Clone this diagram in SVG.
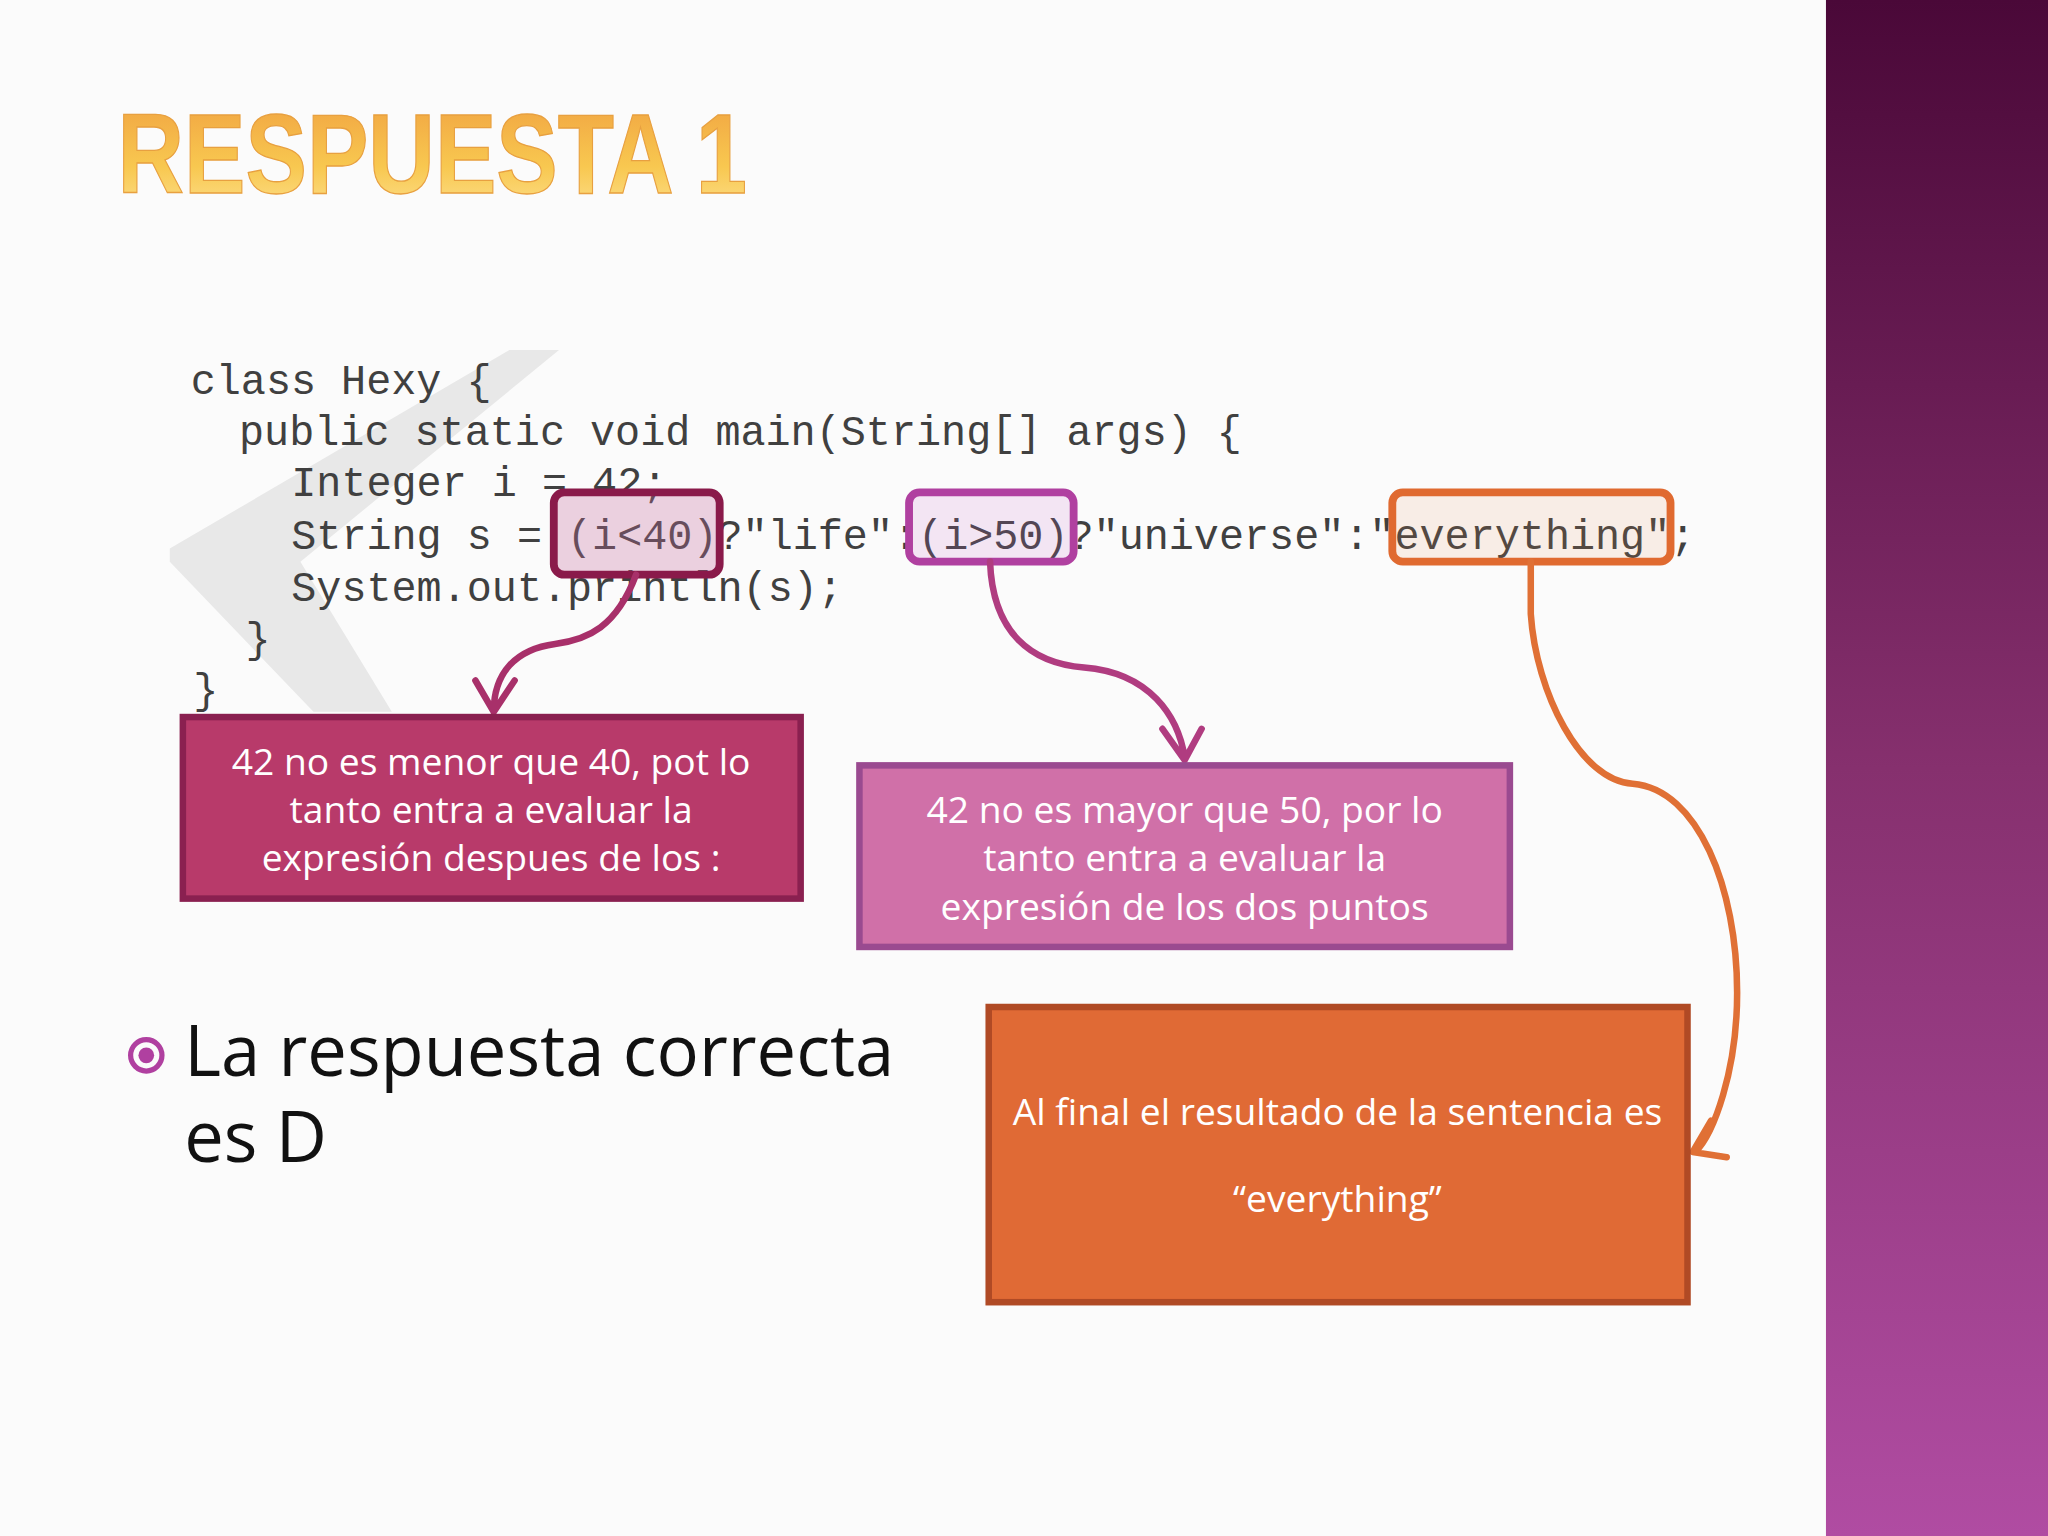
<svg xmlns="http://www.w3.org/2000/svg" width="2048" height="1536" viewBox="0 0 2048 1536">
<defs>
<linearGradient id="band" x1="0" y1="0" x2="0" y2="1"><stop offset="0" stop-color="#4a0838"/><stop offset="0.5" stop-color="#86306e"/><stop offset="1" stop-color="#b04ca2"/></linearGradient>
<linearGradient id="title" x1="0" y1="0" x2="0" y2="1"><stop offset="0" stop-color="#f0a040"/><stop offset="0.6" stop-color="#f8c850"/><stop offset="1" stop-color="#fde090"/></linearGradient>
<style>
.code{font-family:"Liberation Mono","Courier New",monospace;font-size:32px;fill:#404040}
.cal{font-family:"Open Sans","Noto Sans",sans-serif;font-size:28.5px;fill:#fff;text-anchor:middle}
.hl{stroke-width:6;rx:8}
.arr{fill:none;stroke-width:5;stroke-linecap:round;stroke-linejoin:round}
.big{font-family:"Open Sans","Noto Sans",sans-serif;font-size:54px;fill:#111}
</style>
</defs>
<rect width="2048" height="1536" fill="#fbfbfb"/>
<g transform="scale(1.30612)">
<rect x="1398" y="0" width="170" height="1176" fill="url(#band)"/>
<text x="90" y="148" font-family="Liberation Sans,Arial,sans-serif" font-weight="bold" font-size="86" textLength="482" lengthAdjust="spacingAndGlyphs" fill="url(#title)" stroke="#e8a040" stroke-width="1">RESPUESTA 1</text>
<polygon points="390,268 428,268 230,430 300,545 240,545 130,430 130,420" fill="#e8e8e8"/>
<g id="code">
<text class="code" x="146" y="302">class Hexy {</text>
<text class="code" x="183" y="341">public static void main(String[] args) {</text>
<text class="code" x="223" y="380">Integer i = 42;</text>
<text class="code" x="223" y="420">String s = (i&lt;40)?"life":(i&gt;50)?"universe":"everything";</text>
<text class="code" x="223" y="460">System.out.println(s);</text>
<text class="code" x="188" y="499">}</text>
<text class="code" x="148" y="538">}</text>
</g>
<g id="highlights">
<rect class="hl" x="424" y="377" width="127" height="63" fill="rgba(200,110,160,0.3)" stroke="#8a1a4a"/>
<rect class="hl" x="696" y="377" width="126" height="53" fill="rgba(200,110,200,0.15)" stroke="#b040a0"/>
<rect class="hl" x="1066" y="377" width="213" height="53" fill="rgba(230,140,80,0.12)" stroke="#e06a30"/>
</g>
<g id="connectors">
<path class="arr" stroke="#a8306a" d="M487,440 C472,480 450,490 425,493 C395,497 378,515 378,545 M364,521 L378,545 L394,521"/>
<path class="arr" stroke="#b03c80" d="M758,430 C760,485 790,508 830,511 C880,515 902,548 907,580 M890,558 L907,582 L920,558"/>
<path class="arr" stroke="#e07035" d="M1172,430 L1172,470 C1176,530 1210,598 1250,600 C1300,604 1330,680 1330,760 C1330,820 1312,868 1298,882 M1310,858 L1296,882 L1322,886"/>
</g>
<g id="boxA">
<rect x="140" y="549" width="473" height="139" fill="#b83a6a" stroke="#8a2050" stroke-width="5"/>
<text class="cal" x="376" y="593">42 no es menor que 40, pot lo</text>
<text class="cal" x="376" y="630">tanto entra a evaluar la</text>
<text class="cal" x="376" y="667">expresión despues de los :</text>
</g>
<g id="boxB">
<rect x="658" y="586" width="498" height="139" fill="#d070a8" stroke="#9a4a90" stroke-width="5"/>
<text class="cal" x="907" y="630">42 no es mayor que 50, por lo</text>
<text class="cal" x="907" y="667">tanto entra a evaluar la</text>
<text class="cal" x="907" y="704">expresión de los dos puntos</text>
</g>
<g id="boxC">
<rect x="757" y="771" width="535" height="226" fill="#e06a35" stroke="#b04a25" stroke-width="5"/>
<text class="cal" x="1024" y="861">Al final el resultado de la sentencia es</text>
<text class="cal" x="1024" y="928">“everything”</text>
</g>
<g id="bullet">
<circle cx="112" cy="808" r="12" fill="none" stroke="#b040a0" stroke-width="4"/>
<circle cx="112" cy="808" r="6" fill="#b040a0"/>
<text class="big" x="141" y="824">La respuesta correcta</text>
<text class="big" x="141" y="890">es D</text>
</g>
</g>
</svg>
